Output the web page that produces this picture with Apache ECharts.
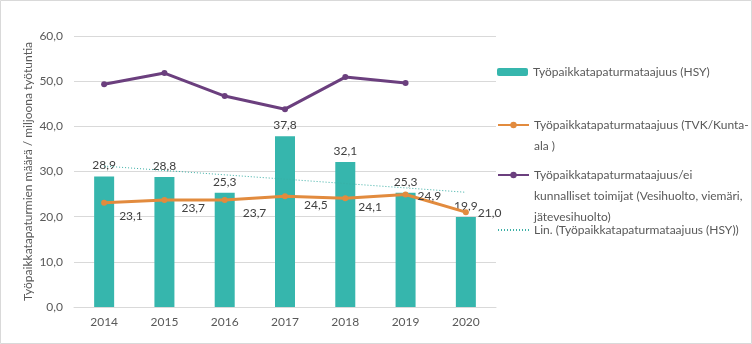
<!DOCTYPE html>
<html><head><meta charset="utf-8">
<script src="https://cdn.jsdelivr.net/npm/echarts@6/dist/echarts.min.js"></script>
<style>html,body{margin:0;padding:0;background:#fff}#c{width:752px;height:344px}</style>
</head><body><div id="c"></div>
<script>
const years = ['2014','2015','2016','2017','2018','2019','2020'];
const hsy = [28.9, 28.8, 25.3, 37.8, 32.1, 25.3, 19.9];
const tvk = [23.1, 23.7, 23.7, 24.5, 24.1, 24.9, 21.0];
const eiKunnalliset = [49.3, 51.8, 46.7, 43.8, 50.9, 49.6, null];
const trendHsy = [31.2, null, null, null, null, null, 25.4];
const yTicks = [0, 10, 20, 30, 40, 50, 60];

const N1 = 'Työpaikkatapaturmataajuus (HSY)';
const N2 = 'Työpaikkatapaturmataajuus (TVK/Kunta-ala )';
const N3 = 'Työpaikkatapaturmataajuus/ei kunnalliset toimijat (Vesihuolto, viemäri, jätevesihuolto)';
const N4 = 'Lin. (Työpaikkatapaturmataajuus (HSY))';
const legendLines = {};
legendLines[N1] = ['Työpaikkatapaturmataajuus (HSY)'];
legendLines[N2] = ['Työpaikkatapaturmataajuus (TVK/Kunta-', 'ala )'];
legendLines[N3] = ['Työpaikkatapaturmataajuus/ei', 'kunnalliset toimijat (Vesihuolto, viemäri,', 'jätevesihuolto)'];
legendLines[N4] = ['Lin. (Työpaikkatapaturmataajuus (HSY))'];

const fmt = v => v.toFixed(1).replace('.', ',');
const FONT = 'Lato';
const TXT = '#595959';
const LH = 21;

const tvkOffsets = [[9,13],[11,8],[12,13],[13,9],[7,9],[6,2],[6,1]];

function mkLegend(name, iconY, extra) {
  const lines = legendLines[name];
  const n = lines.length;
  const blockH = (2*n - 1) * LH;
  const txt = new Array(n).join('\n') + lines.join('\n');
  return Object.assign({
    show: true, orient: 'vertical', left: 497, top: iconY - blockH/2, padding: 0,
    itemWidth: 31, itemHeight: 8, itemGap: 0, selectedMode: false,
    data: [name],
    formatter: () => txt,
    textStyle: {fontFamily: FONT, fontSize: 12, color: TXT, lineHeight: LH}
  }, extra || {});
}

const chart = echarts.init(document.getElementById('c'), null, {renderer: 'canvas'});
chart.setOption({
  animation: false,
  backgroundColor: '#fff',
  textStyle: {fontFamily: FONT},
  grid: {left: 74, right: 256, top: 36, bottom: 37, containLabel: false},
  legend: [
    mkLegend(N1, 72),
    mkLegend(N2, 125),
    mkLegend(N3, 175),
    mkLegend(N4, 230, {data: [{name: N4, itemStyle: {opacity: 0}}]})
  ],
  graphic: [{type: 'rect', shape: {x: 0.5, y: 0.5, width: 751, height: 343}, style: {fill: null, stroke: '#d9d9d9', lineWidth: 1}, silent: true}],
  xAxis: {
    type: 'category', data: years,
    axisLine: {show: true, lineStyle: {color: '#d9d9d9'}},
    axisTick: {show: false},
    axisLabel: {fontFamily: FONT, fontSize: 12, color: TXT, margin: 9}
  },
  yAxis: {
    type: 'value', min: yTicks[0], max: yTicks[yTicks.length-1], interval: 10,
    name: 'Työpaikkatapaturmien määrä / miljoona työtuntia',
    nameLocation: 'middle', nameGap: 40, nameRotate: 90, nameMoveOverlap: false,
    nameTextStyle: {fontFamily: FONT, fontSize: 12, color: TXT},
    axisLine: {show: false}, axisTick: {show: false},
    axisLabel: {fontFamily: FONT, fontSize: 12, color: TXT, margin: 11, formatter: v => fmt(v)},
    splitLine: {lineStyle: {color: '#d9d9d9'}}
  },
  series: [
    {
      name: N1, type: 'bar', data: hsy, barWidth: 20,
      itemStyle: {color: '#36b6ad'},
      label: {show: true, position: 'top', distance: 5, fontFamily: FONT, fontSize: 12, color: '#404040', formatter: p => fmt(p.value)},
      z: 2
    },
    {
      name: N2, type: 'line',
      data: tvk.map((v, i) => ({value: v, label: {offset: tvkOffsets[i]}})),
      symbol: 'circle', symbolSize: 6,
      lineStyle: {color: '#e28b3e', width: 3}, itemStyle: {color: '#e28b3e'},
      label: {show: true, position: 'right', distance: 3, fontFamily: FONT, fontSize: 12, color: '#404040', formatter: p => fmt(p.value)},
      z: 4
    },
    {
      name: N3, type: 'line', data: eiKunnalliset,
      symbol: 'circle', symbolSize: 6,
      lineStyle: {color: '#6b3f7e', width: 3}, itemStyle: {color: '#6b3f7e'},
      z: 4
    },
    {
      name: N4, type: 'line', data: trendHsy, connectNulls: true,
      symbol: 'none', showSymbol: false,
      lineStyle: {color: '#3aafa5', width: 1, type: [1, 2]}, itemStyle: {color: '#3aafa5'},
      z: 3
    }
  ]
});
</script></body></html>
